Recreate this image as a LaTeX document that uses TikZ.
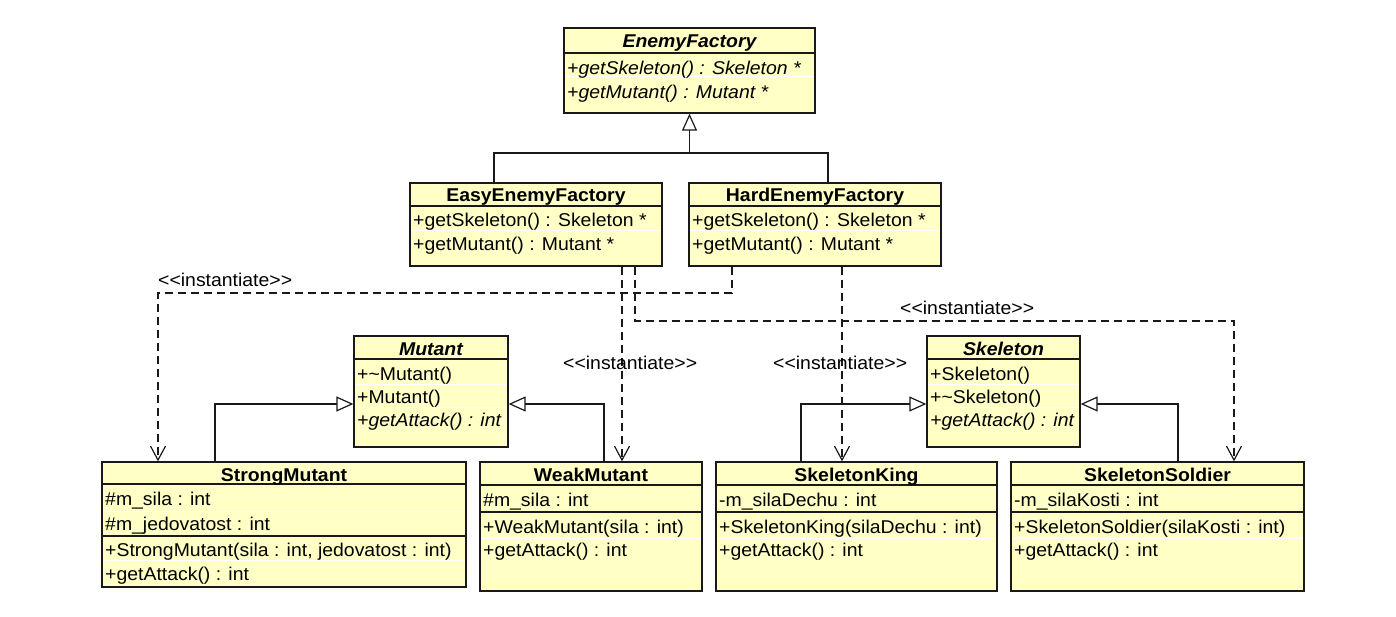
\documentclass[tikz,border=0pt]{standalone}
\usepackage{fontspec}
\newfontfamily\umlfont{Liberation Sans}[FakeStretch=1.05]
\usetikzlibrary{arrows.meta}
\definecolor{umlfill}{RGB}{255,255,198}
\definecolor{umlline}{RGB}{25,25,25}
\begin{document}
\begin{tikzpicture}[x=1pt,y=-1pt,
  font=\umlfont\fontsize{18.5}{22}\selectfont,
  classbox/.style={draw=umlline, fill=umlfill, line width=1.3pt, inner sep=0pt},
  rowsep/.style={draw=white, line width=1pt},
  compsep/.style={draw=umlline, line width=1.3pt},
  row/.style={anchor=base west, inner sep=0pt, yshift=-2pt},
  ctitle/.style={anchor=base, inner sep=0pt, yshift=-1pt, font=\umlfont\fontsize{18.5}{22}\selectfont\bfseries},
  atitle/.style={anchor=base, inner sep=0pt, yshift=-1pt, font=\umlfont\fontsize{18.5}{22}\selectfont\bfseries\itshape},
  lbl/.style={anchor=base west, inner sep=0pt},
  conn/.style={draw=umlline, line width=1.2pt},
  gen/.style={conn, -{Triangle[length=17pt, width=15pt, fill=white]}},
  dep/.style={conn, dash pattern=on 8pt off 5pt, -{Straight Barb[length=14pt, width=15pt]}}
]
\useasboundingbox (0,0) rectangle (1396,617);

% ---------- EnemyFactory ----------
\node[classbox, minimum width=251pt, minimum height=85pt] (ef) at (689.5,70.5) {};
\draw[compsep] (ef.west |- 0,53) -- (ef.east |- 0,53);
\draw[rowsep] (565,77) -- (814,77);
\node[atitle] (efT) at (689.5,47) {EnemyFactory};
\node[row] (efR1) at (567,72.5) {\itshape +getSkeleton() : Skeleton *};
\node[row] (efR2) at (567,96.5) {\itshape +getMutant() : Mutant *};

% ---------- EasyEnemyFactory ----------
\node[classbox, minimum width=252pt, minimum height=83pt] (easy) at (536,224.5) {};
\draw[compsep] (easy.west |- 0,206) -- (easy.east |- 0,206);
\draw[rowsep] (411,231) -- (661,231);
\node[ctitle] (easyT) at (536,201) {EasyEnemyFactory};
\node[row] (easyR1) at (413,224.5) {+getSkeleton() : Skeleton *};
\node[row] (easyR2) at (413,248.5) {+getMutant() : Mutant *};

% ---------- HardEnemyFactory ----------
\node[classbox, minimum width=252pt, minimum height=83pt] (hard) at (815,224.5) {};
\draw[compsep] (hard.west |- 0,206) -- (hard.east |- 0,206);
\draw[rowsep] (690,231) -- (940,231);
\node[ctitle] (hardT) at (815,201) {HardEnemyFactory};
\node[row] (hardR1) at (692,224.5) {+getSkeleton() : Skeleton *};
\node[row] (hardR2) at (692,248.5) {+getMutant() : Mutant *};

% ---------- Mutant ----------
\node[classbox, minimum width=154pt, minimum height=111pt] (mutant) at (431,391.5) {};
\draw[compsep] (mutant.west |- 0,359) -- (mutant.east |- 0,359);
\draw[rowsep] (355,384) -- (507,384);
\draw[rowsep] (355,407) -- (507,407);
\node[atitle] (mutantT) at (431,354) {Mutant};
\node[row] (mutantR1) at (357,378.5) {+\textasciitilde Mutant()};
\node[row] (mutantR2) at (357,401.5) {+Mutant()};
\node[row] (mutantR3) at (357,424.5) {\itshape +getAttack() : int};

% ---------- Skeleton ----------
\node[classbox, minimum width=153pt, minimum height=111pt] (skel) at (1003.5,391.5) {};
\draw[compsep] (skel.west |- 0,359) -- (skel.east |- 0,359);
\draw[rowsep] (928,384) -- (1079,384);
\draw[rowsep] (928,407) -- (1079,407);
\node[atitle] (skelT) at (1003.5,354) {Skeleton};
\node[row] (skelR1) at (930,378.5) {+Skeleton()};
\node[row] (skelR2) at (930,401.5) {+\textasciitilde Skeleton()};
\node[row] (skelR3) at (930,424.5) {\itshape +getAttack() : int};

% ---------- StrongMutant ----------
\node[classbox, minimum width=364pt, minimum height=125pt] (sm) at (284,524.5) {};
\draw[compsep] (sm.west |- 0,484) -- (sm.east |- 0,484);
\draw[rowsep] (103,511) -- (465,511);
\draw[compsep] (sm.west |- 0,536) -- (sm.east |- 0,536);
\draw[rowsep] (103,560) -- (465,560);
\node[ctitle] (smT) at (284,480) {StrongMutant};
\node[row] (smR1) at (105,503.5) {\#m\_sila : int};
\node[row] (smR2) at (105,528.5) {\#m\_jedovatost : int};
\node[row] (smR3) at (105,554.5) {+StrongMutant(sila : int, jedovatost : int)};
\node[row] (smR4) at (105,578.5) {+getAttack() : int};

% ---------- WeakMutant ----------
\node[classbox, minimum width=222pt, minimum height=129pt] (wm) at (591,526.5) {};
\draw[compsep] (wm.west |- 0,485) -- (wm.east |- 0,485);
\draw[compsep] (wm.west |- 0,512) -- (wm.east |- 0,512);
\draw[rowsep] (481,538) -- (701,538);
\node[ctitle] (wmT) at (591,480) {WeakMutant};
\node[row] (wmR1) at (483,504.5) {\#m\_sila : int};
\node[row] (wmR2) at (483,531.5) {+WeakMutant(sila : int)};
\node[row] (wmR3) at (483,554.5) {+getAttack() : int};

% ---------- SkeletonKing ----------
\node[classbox, minimum width=281pt, minimum height=129pt] (sk) at (856.5,526.5) {};
\draw[compsep] (sk.west |- 0,485) -- (sk.east |- 0,485);
\draw[compsep] (sk.west |- 0,512) -- (sk.east |- 0,512);
\draw[rowsep] (717,538) -- (996,538);
\node[ctitle] (skT) at (856.5,480) {SkeletonKing};
\node[row] (skR1) at (719,504.5) {-m\_silaDechu : int};
\node[row] (skR2) at (719,531.5) {+SkeletonKing(silaDechu : int)};
\node[row] (skR3) at (719,554.5) {+getAttack() : int};

% ---------- SkeletonSoldier ----------
\node[classbox, minimum width=293pt, minimum height=129pt] (ss) at (1157.5,526.5) {};
\draw[compsep] (ss.west |- 0,485) -- (ss.east |- 0,485);
\draw[compsep] (ss.west |- 0,512) -- (ss.east |- 0,512);
\draw[rowsep] (1012,538) -- (1303,538);
\node[ctitle] (ssT) at (1157.5,480) {SkeletonSoldier};
\node[row] (ssR1) at (1014,504.5) {-m\_silaKosti : int};
\node[row] (ssR2) at (1014,531.5) {+SkeletonSoldier(silaKosti : int)};
\node[row] (ssR3) at (1014,554.5) {+getAttack() : int};

% ---------- Generalizations ----------
\coordinate (efj) at (689.5,153);
\draw[conn] ([xshift=-42pt]easy.north) |- (efj);
\draw[conn] ([xshift=13pt]hard.north) |- (efj);
\draw[gen] (efj) -- (ef.south);

\draw[gen] ([xshift=-69pt]sm.north) |- ([yshift=-12.5pt]mutant.west);
\draw[gen] ([xshift=13pt]wm.north) |- ([yshift=-12.5pt]mutant.east);
\draw[gen] ([xshift=-55.5pt]sk.north) |- ([yshift=-12.5pt]skel.west);
\draw[gen] ([xshift=20.5pt]ss.north) |- ([yshift=-12.5pt]skel.east);

% ---------- Dependencies ----------
\coordinate (t1) at (158,293);
\draw[dep] ([xshift=-83pt]hard.south) |- (t1) -- ([xshift=-126pt]sm.north);
\node[lbl] (l1) at (158,287) {<<instantiate>>};

\draw[dep] ([xshift=86pt]easy.south) -- ([xshift=31pt]wm.north);
\node[lbl] (l2) at (563,369) {<<instantiate>>};

\coordinate (t3) at (1234,321);
\draw[dep] ([xshift=99pt]easy.south) |- (t3) -- ([xshift=76.5pt]ss.north);
\node[lbl] (l3) at (900,314) {<<instantiate>>};

\draw[dep] ([xshift=27pt]hard.south) -- ([xshift=-14.5pt]sk.north);
\node[lbl] (l4) at (773,369) {<<instantiate>>};
\end{tikzpicture}
\end{document}
